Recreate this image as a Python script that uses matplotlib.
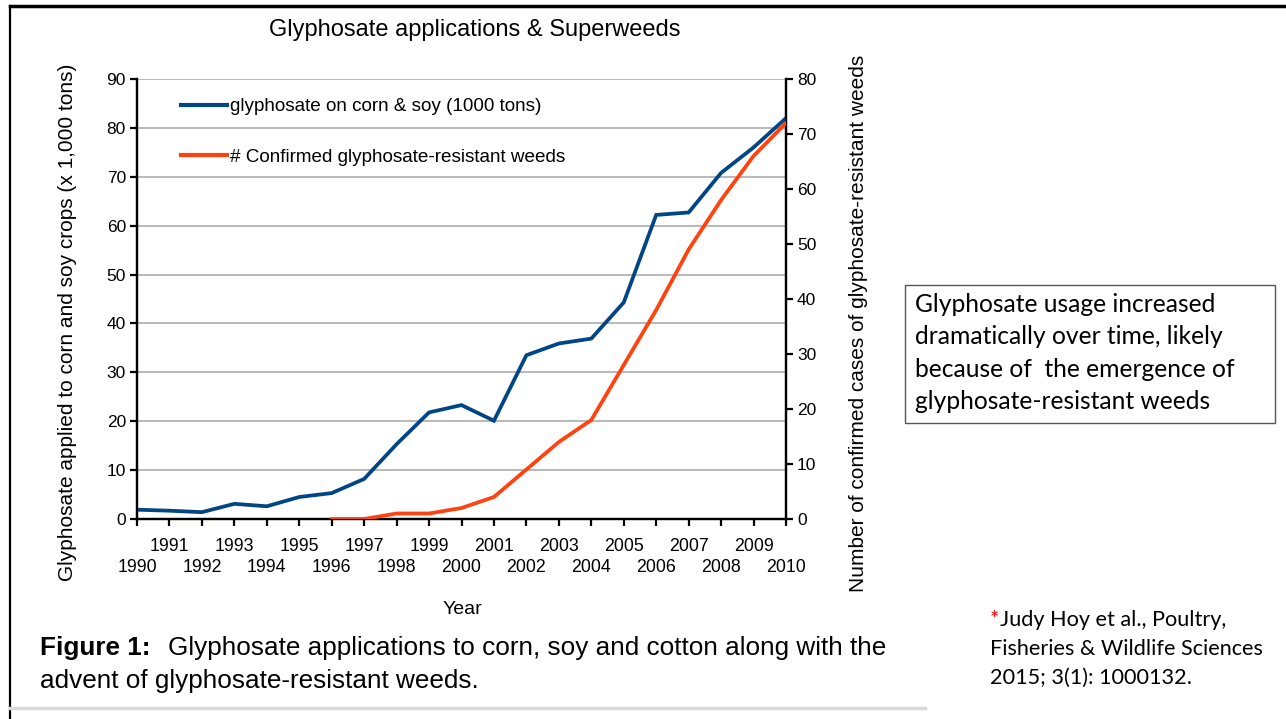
import matplotlib
matplotlib.use("Agg")
import matplotlib.pyplot as plt
from matplotlib import font_manager
from matplotlib.lines import Line2D
from matplotlib.patches import Rectangle

# data
years = list(range(1990, 2011))
glyphosate = [1.9, 1.7, 1.4, 3.1, 2.6, 4.5, 5.3, 8.2, 15.3, 21.8, 23.3,
              20.1, 33.5, 35.9, 36.9, 44.3, 62.2, 62.7, 70.8, 76.0, 82.0]
weed_years = list(range(1996, 2011))
weeds = [0, 0, 1, 1, 2, 4, 9, 14, 18, 28, 38, 49, 58, 66, 72]
even_years = [y for y in years if y % 2 == 0]
odd_years = [y for y in years if y % 2 == 1]

blue = "#004586"
orange = "#ff420e"

names = {f.name for f in font_manager.fontManager.ttflist}
sans = "Liberation Sans" if "Liberation Sans" in names else "DejaVu Sans"
calib = "Lato" if "Lato" in names else sans
plt.rcParams["font.family"] = [sans, "DejaVu Sans"]

fig = plt.figure(figsize=(12.86, 7.19), dpi=100)

W, H = 1286, 719
def fx(px):
    return px / W
def fy(py):
    return 1 - py / H

ax = fig.add_axes([fx(137), fy(519), fx(786) - fx(137), fy(79) - fy(519)])
ax2 = ax.twinx()

ax.plot(years, glyphosate, color=blue, lw=2.7, solid_joinstyle="miter", zorder=3)
ax2.plot(weed_years, weeds, color=orange, lw=2.7, solid_joinstyle="miter", zorder=3)

ax.set_xlim(1990, 2010)
ax.set_ylim(0, 90)
ax2.set_ylim(0, 80)
ax.set_yticks(range(0, 91, 10))
ax2.set_yticks(range(0, 81, 10))

# staggered year labels: odd years on the upper row, even on the lower
ax.set_xticks(even_years)
ax.set_xticklabels([str(y) for y in even_years])
ax.set_xticks(odd_years, minor=True)
ax.set_xticklabels([str(y) for y in odd_years], minor=True)
ax.tick_params(axis="x", which="major", labelsize=12.8, length=5, width=1.6, pad=24)
ax.tick_params(axis="x", which="minor", labelsize=12.8, length=5, width=1.6, pad=8.5)

ax.grid(axis="y", color="#b3b3b3", lw=1.3)
ax.set_axisbelow(True)

for a in (ax, ax2):
    a.spines["top"].set_visible(False)
    for s in ("left", "right", "bottom"):
        a.spines[s].set_linewidth(1.6)
        a.spines[s].set_color("black")
ax.tick_params(axis="y", labelsize=12.5, length=5, width=1.6, pad=3)
ax2.tick_params(axis="y", labelsize=12.5, length=5, width=1.6, pad=3)

fig.text(fx(475), fy(30), "Glyphosate applications & Superweeds",
         ha="center", va="center", fontsize=17)
fig.text(fx(68), fy(322), "Glyphosate applied to corn and soy crops (x 1,000 tons)",
         rotation=90, ha="center", va="center", fontsize=15)
fig.text(fx(858), fy(323), "Number of confirmed cases of glyphosate-resistant weeds",
         rotation=90, ha="center", va="center", fontsize=15)
fig.text(fx(462), fy(609), "Year", ha="center", va="center", fontsize=14)

handles = [Line2D([], [], color=blue, lw=3),
           Line2D([], [], color=orange, lw=3)]
labels = ["glyphosate on corn & soy (1000 tons)",
          "# Confirmed glyphosate-resistant weeds"]
ax2.legend(handles, labels, loc="upper left", bbox_to_anchor=(0.042, 0.995),
           frameon=False, handlelength=2.4, handletextpad=0.2,
           labelspacing=1.75, prop={"family": sans, "size": 13.6})

# caption
fig.text(fx(40), fy(648), "Figure 1:", ha="left", va="center",
         fontsize=18.8, fontweight="bold")
fig.text(fx(168), fy(648), "Glyphosate applications to corn, soy and cotton along with the",
         ha="left", va="center", fontsize=18.8)
fig.text(fx(40), fy(681), "advent of glyphosate-resistant weeds.",
         ha="left", va="center", fontsize=18.8)

# note box
fig.add_artist(Rectangle((fx(905), fy(423)), fx(1275) - fx(905), fy(285) - fy(423),
                         transform=fig.transFigure, fc="white", ec="#555555", lw=1))
fig.text(fx(915), fy(353),
         "Glyphosate usage increased\ndramatically over time, likely\n"
         "because of  the emergence of\nglyphosate-resistant weeds",
         ha="left", va="center", fontsize=17.7, fontfamily=calib, linespacing=1.5)

# citation
fig.text(fx(990), fy(620), "*", ha="left", va="center", fontsize=15.6,
         fontfamily=calib, color="red")
fig.text(fx(1000), fy(620), "Judy Hoy et al., Poultry,", ha="left", va="center",
         fontsize=15.6, fontfamily=calib)
fig.text(fx(990), fy(649), "Fisheries & Wildlife Sciences", ha="left", va="center",
         fontsize=15.6, fontfamily=calib)
fig.text(fx(990), fy(678), "2015; 3(1): 1000132.", ha="left", va="center",
         fontsize=15.6, fontfamily=calib)

# slide frame
fig.add_artist(Line2D([fx(10), 1], [fy(6), fy(6)], color="black", lw=2.5))
fig.add_artist(Line2D([fx(10), fx(10)], [fy(6), 0], color="black", lw=1.6))
fig.add_artist(Line2D([fx(10), fx(925)], [fy(708), fy(708)], color="#d9d9d9", lw=2.5))

fig.savefig("out.png", dpi=100)
